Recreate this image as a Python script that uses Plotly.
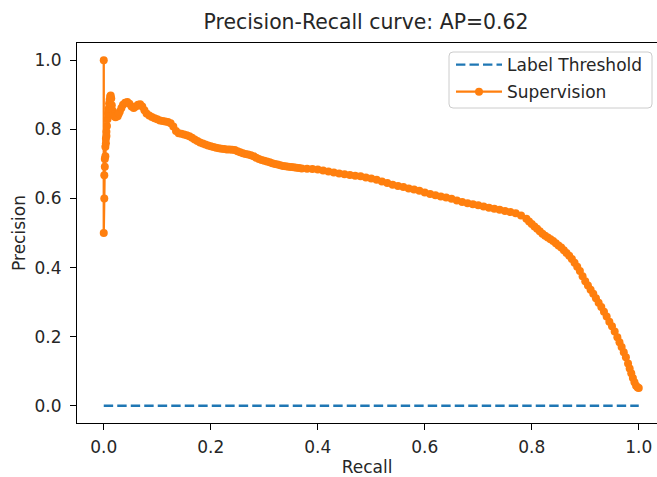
import plotly.graph_objects as go

# ---- data ----
threshold_recall = [0.0, 1.0]
threshold_precision = [0.0, 0.0]

recall = [
    0.000, 0.000, 0.001, 0.001, 0.002, 0.002, 0.003, 0.003, 0.004, 0.004,
    0.005, 0.005, 0.006, 0.007, 0.008, 0.009, 0.010, 0.011, 0.012, 0.013,
    0.014, 0.015, 0.016, 0.018, 0.020, 0.022, 0.024, 0.026, 0.028, 0.030,
    0.033, 0.036, 0.040, 0.044, 0.048, 0.052, 0.056, 0.060, 0.064, 0.068,
    0.072, 0.076, 0.080, 0.085, 0.090, 0.095, 0.100, 0.105, 0.110, 0.115,
    0.120, 0.125, 0.130, 0.135, 0.140, 0.145, 0.150, 0.155, 0.160, 0.165,
    0.170, 0.175, 0.180, 0.185, 0.190, 0.195, 0.200, 0.205, 0.210, 0.215,
    0.220, 0.225, 0.230, 0.235, 0.240, 0.245, 0.250, 0.255, 0.260, 0.265,
    0.270, 0.275, 0.280, 0.285, 0.290, 0.295, 0.300, 0.305, 0.310, 0.315,
    0.320, 0.325, 0.330, 0.335, 0.340, 0.345, 0.350, 0.355, 0.360, 0.365,
    0.370, 0.380, 0.390, 0.400, 0.410, 0.420, 0.430, 0.440, 0.450, 0.460,
    0.470, 0.480, 0.490, 0.500, 0.510, 0.520, 0.530, 0.540, 0.550, 0.560,
    0.570, 0.580, 0.590, 0.600, 0.610, 0.620, 0.630, 0.640, 0.650, 0.660,
    0.670, 0.680, 0.690, 0.700, 0.710, 0.720, 0.730, 0.740, 0.750, 0.760,
    0.770, 0.780, 0.790, 0.795, 0.800, 0.805, 0.810, 0.815, 0.820, 0.825,
    0.830, 0.835, 0.840, 0.845, 0.850, 0.855, 0.860, 0.865, 0.870, 0.875,
    0.880, 0.885, 0.890, 0.895, 0.900, 0.905, 0.910, 0.915, 0.920, 0.925,
    0.930, 0.935, 0.940, 0.945, 0.950, 0.955, 0.960, 0.964, 0.968, 0.972,
    0.976, 0.980, 0.983, 0.986, 0.989, 0.992, 0.995, 0.998, 1.000,
]
precision = [
    1.000, 0.500, 0.667, 0.600, 0.714, 0.692, 0.750, 0.722, 0.773, 0.760,
    0.793, 0.781, 0.810, 0.829, 0.846, 0.860, 0.875, 0.886, 0.895, 0.898,
    0.889, 0.870, 0.855, 0.843, 0.838, 0.835, 0.840, 0.838, 0.845, 0.852,
    0.862, 0.871, 0.877, 0.879, 0.874, 0.866, 0.862, 0.866, 0.871, 0.873,
    0.866, 0.855, 0.846, 0.840, 0.836, 0.832, 0.829, 0.826, 0.824, 0.823,
    0.821, 0.818, 0.808, 0.795, 0.789, 0.787, 0.785, 0.783, 0.780, 0.776,
    0.771, 0.766, 0.762, 0.759, 0.756, 0.753, 0.751, 0.749, 0.747, 0.745,
    0.744, 0.743, 0.742, 0.742, 0.741, 0.740, 0.737, 0.734, 0.731, 0.729,
    0.727, 0.725, 0.722, 0.718, 0.714, 0.711, 0.709, 0.707, 0.705, 0.702,
    0.700, 0.698, 0.696, 0.694, 0.693, 0.692, 0.691, 0.690, 0.689, 0.688,
    0.687, 0.686, 0.685, 0.684, 0.681, 0.678, 0.675, 0.672, 0.670, 0.668,
    0.666, 0.664, 0.661, 0.658, 0.654, 0.649, 0.645, 0.640, 0.636, 0.633,
    0.629, 0.626, 0.622, 0.617, 0.613, 0.609, 0.606, 0.603, 0.599, 0.594,
    0.590, 0.586, 0.583, 0.580, 0.577, 0.573, 0.570, 0.567, 0.564, 0.561,
    0.557, 0.551, 0.541, 0.533, 0.526, 0.519, 0.512, 0.505, 0.498, 0.492,
    0.487, 0.482, 0.477, 0.470, 0.464, 0.458, 0.450, 0.442, 0.434, 0.425,
    0.414, 0.402, 0.390, 0.375, 0.360, 0.348, 0.336, 0.324, 0.311, 0.298,
    0.286, 0.272, 0.258, 0.243, 0.230, 0.215, 0.198, 0.184, 0.170, 0.155,
    0.140, 0.122, 0.108, 0.094, 0.080, 0.068, 0.058, 0.053, 0.051,
]

x_ticks = [0.0, 0.2, 0.4, 0.6, 0.8, 1.0]
y_ticks = [0.0, 0.2, 0.4, 0.6, 0.8, 1.0]
x_tick_text = ["0.0", "0.2", "0.4", "0.6", "0.8", "1.0"]
y_tick_text = ["0.0", "0.2", "0.4", "0.6", "0.8", "1.0"]

FONT = "DejaVu Sans"
TXT = "#262626"
FS = 17

fig = go.Figure()
fig.add_trace(go.Scatter(
    x=threshold_recall, y=threshold_precision, mode="lines",
    name="Label Threshold", legendgroup="a",
    line=dict(color="#1f77b4", width=2.3, dash="9.4px,4.1px"),
))
fig.add_trace(go.Scatter(
    x=recall, y=precision, mode="lines+markers",
    name="Supervision", legendgroup="b",
    line=dict(color="#ff7f0e", width=2.3),
    marker=dict(color="#ff7f0e", size=8),
))

W, H = 657, 477
L, T, B = 77, 43, 54
PW, PH = W - L, H - T - B
px_per_x = 535.0
x_lo = -0.05
x_hi = x_lo + PW / px_per_x


def px_to_paper_x(px):
    return (px - L) / PW


def px_to_paper_y(py):
    return (H - B - py) / PH


# legend frame (matplotlib-style rounded box)
bx0, bx1 = px_to_paper_x(449), px_to_paper_x(652)
by0, by1 = px_to_paper_y(108), px_to_paper_y(52)
rx, ry = 4 / PW, 4 / PH
frame = (f"M{bx0+rx},{by1} L{bx1-rx},{by1} Q{bx1},{by1} {bx1},{by1-ry} "
         f"L{bx1},{by0+ry} Q{bx1},{by0} {bx1-rx},{by0} L{bx0+rx},{by0} "
         f"Q{bx0},{by0} {bx0},{by0+ry} L{bx0},{by1-ry} Q{bx0},{by1} {bx0+rx},{by1} Z")

fig.update_layout(
    width=W, height=H,
    margin=dict(l=L, r=0, t=T, b=B, pad=0),
    paper_bgcolor="white", plot_bgcolor="white",
    font=dict(family=FONT, size=FS, color=TXT),
    title=dict(text="Precision-Recall curve: AP=0.62", x=366 / W, xref="container",
               xanchor="center", y=1 - 22 / H, yref="container", yanchor="middle",
               font=dict(family=FONT, size=20.4, color=TXT)),
    showlegend=True,
    legend=dict(x=px_to_paper_x(451), y=px_to_paper_y(47), xanchor="left", yanchor="top",
                bgcolor="rgba(0,0,0,0)", borderwidth=0,
                font=dict(family=FONT, size=FS, color=TXT),
                traceorder="grouped", tracegroupgap=2, itemwidth=46),
    shapes=[dict(type="path", path=frame, xref="paper", yref="paper",
                 fillcolor="rgba(255,255,255,0.8)", line=dict(color="#cccccc", width=1),
                 layer="above")],
)
fig.update_xaxes(
    range=[x_lo, x_hi], tickvals=x_ticks, ticktext=x_tick_text,
    showgrid=False, zeroline=False, showline=True, linecolor="#000000", linewidth=1.2,
    mirror=True, ticks="outside", ticklen=6, tickcolor="#000000", tickwidth=1.2,
    ticklabelstandoff=2,
    tickfont=dict(family=FONT, size=FS, color=TXT),
    title=dict(text="Recall", font=dict(family=FONT, size=FS, color=TXT), standoff=6),
)
fig.update_yaxes(
    range=[-0.05, 1.05], tickvals=y_ticks, ticktext=y_tick_text,
    showgrid=False, zeroline=False, showline=True, linecolor="#000000", linewidth=1.2,
    mirror=False, ticks="outside", ticklen=6, tickcolor="#000000", tickwidth=1.2,
    ticklabelstandoff=5,
    tickfont=dict(family=FONT, size=FS, color=TXT),
    title=dict(text="Precision", font=dict(family=FONT, size=FS, color=TXT), standoff=4),
)

fig.write_html("out.html")
